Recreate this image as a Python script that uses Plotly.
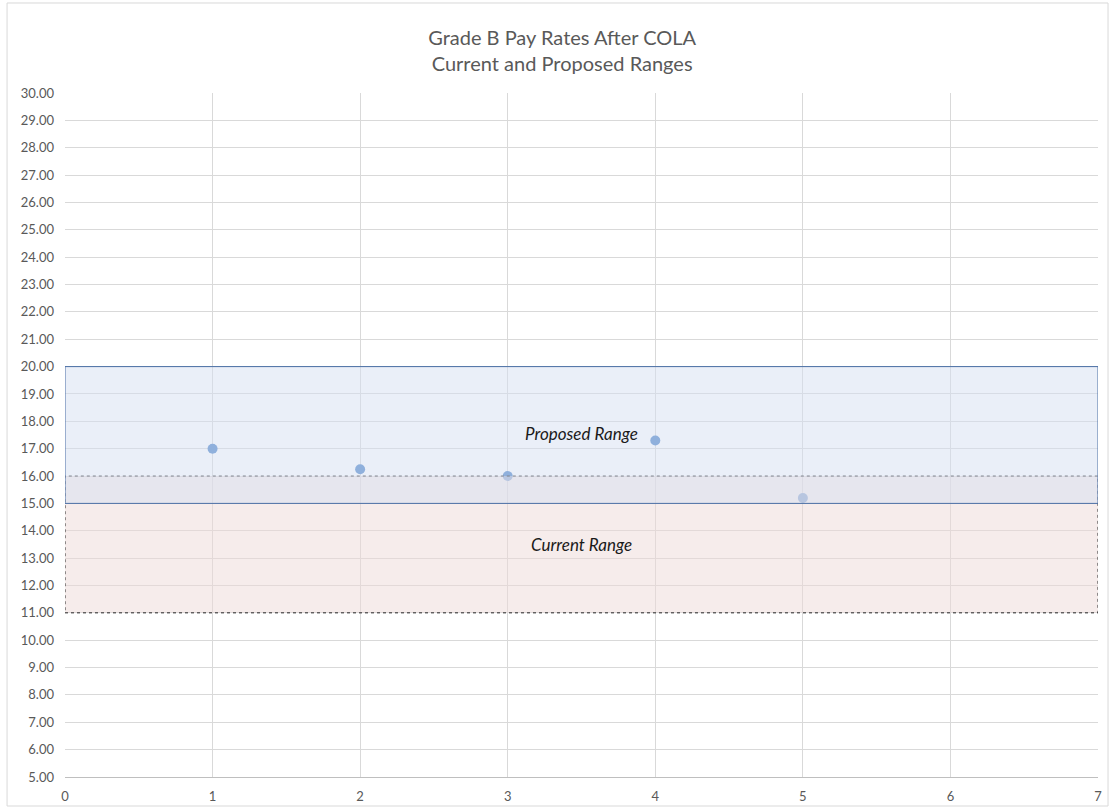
import plotly.graph_objects as go

# Step numbers and the pay rate recorded at each step
steps = [1, 2, 3, 4, 5]
pay_rates = [17.00, 16.25, 16.00, 17.30, 15.20]

# Pay range bands (min, max) and their labels
proposed_range = (15.0, 20.0)
current_range = (11.0, 16.0)
band_labels = ["Proposed Range", "Current Range"]

x_ticks = [0, 1, 2, 3, 4, 5, 6, 7]
y_ticks = [5 + i for i in range(26)]

fig = go.Figure()

fig.add_trace(go.Scatter(
    x=steps, y=pay_rates, mode="markers",
    marker=dict(size=10, color="rgb(73,129,199)"),
    showlegend=False, hoverinfo="x+y",
))

x0, x1 = x_ticks[0], x_ticks[-1]

# Current range band (dashed outline), then proposed band on top
fig.add_shape(type="rect", xref="x", yref="y", layer="above",
              x0=x0, x1=x1, y0=current_range[0], y1=current_range[1],
              fillcolor="rgba(237,217,215,0.5)",
              line=dict(color="#262626", width=1, dash="dot"))
fig.add_shape(type="rect", xref="x", yref="y", layer="above",
              x0=x0, x1=x1, y0=proposed_range[0], y1=proposed_range[1],
              fillcolor="rgba(213,223,241,0.5)",
              line=dict(color="#4A6FA5", width=1))

mid_x = (x0 + x1) / 2
label_font = dict(family="Lato", size=17, color="#1a1a1a")
fig.add_annotation(x=mid_x, y=17.57, xref="x", yref="y",
                   text="<i>" + band_labels[0] + "</i>",
                   showarrow=False, font=label_font,
                   xanchor="center", yanchor="middle")
fig.add_annotation(x=mid_x, y=13.5, xref="x", yref="y",
                   text="<i>" + band_labels[1] + "</i>",
                   showarrow=False, font=label_font,
                   xanchor="center", yanchor="middle")

# Outer chart border
fig.add_shape(type="rect", xref="paper", yref="paper", layer="below",
              x0=-0.0561, x1=1.0097, y0=-0.0424, y1=1.1316,
              line=dict(color="#D9D9D9", width=1), fillcolor="rgba(0,0,0,0)")

fig.update_layout(
    width=1111, height=811,
    margin=dict(l=65, r=13, t=93, b=34),
    paper_bgcolor="white", plot_bgcolor="white",
    font=dict(family="Lato", size=13, color="#595959"),
    title=dict(text="Grade B Pay Rates After COLA<br>Current and Proposed Ranges",
               x=0.506, xanchor="center", y=0.944, yanchor="middle",
               font=dict(family="Lato", size=20, color="#595959")),
    xaxis=dict(range=[x0, x1], tickvals=x_ticks, ticktext=[str(t) for t in x_ticks],
               showgrid=True, gridcolor="#D9D9D9", gridwidth=1,
               zeroline=False, showline=True, linecolor="#BFBFBF", linewidth=1,
               ticks="", ticklabelstandoff=7, automargin=False, fixedrange=True),
    yaxis=dict(range=[5, 30], tickvals=y_ticks, tickformat=".2f",
               showgrid=True, gridcolor="#D9D9D9", gridwidth=1,
               zeroline=False, showline=False,
               ticks="", ticklabelstandoff=10, automargin=False, fixedrange=True),
)

fig.write_html("out.html")
